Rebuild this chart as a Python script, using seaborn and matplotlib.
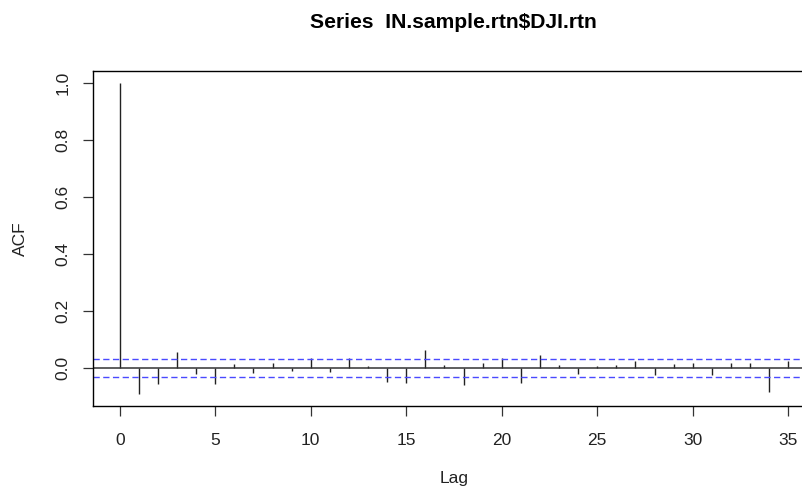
import numpy as np
import pandas as pd
import matplotlib
matplotlib.use("Agg")
import matplotlib.pyplot as plt
import seaborn as sns

# Sample autocorrelations of the daily DJI return series, lags 0..35
lags = list(range(36))
acf_values = [
    1.000, -0.090, -0.055, 0.055, -0.023, -0.056, 0.013, -0.018, 0.016, -0.009,
    0.036, -0.015, 0.034, 0.006, -0.049, -0.053, 0.063, 0.009, -0.060, 0.016,
    0.034, -0.053, 0.044, 0.011, -0.021, 0.006, 0.009, 0.023, -0.026, 0.013,
    0.016, -0.026, 0.016, 0.016, -0.084, 0.023,
]
conf_bound = 0.033  # approximate 95% white-noise band
x_ticks = [0, 5, 10, 15, 20, 25, 30, 35]
y_ticks = [0.0, 0.2, 0.4, 0.6, 0.8, 1.0]
title = "Series  IN.sample.rtn$DJI.rtn"

df = pd.DataFrame({"lag": lags, "acf": acf_values})

sns.set_style("white")
plt.rcParams["font.family"] = ["Liberation Sans", "DejaVu Sans"]

fig = plt.figure(figsize=(8.02, 4.88), dpi=100)
ax = fig.add_axes([93 / 802, 1 - 406 / 488, (815 - 93) / 802, (406 - 70.7) / 488])

# ACF spikes
ax.vlines(df["lag"], 0, df["acf"], color="#222222", linewidth=1.0)
ax.axhline(0, color="#333333", linewidth=1.1)
for b in (conf_bound, -conf_bound):
    ax.axhline(b, color="#4a4aff", linewidth=1.0, linestyle=(0, (4.5, 2.5)))

lo, hi = min(acf_values), max(acf_values)
pad = (hi - lo) * 0.04
ax.set_ylim(lo - pad, hi + pad)
xpad = (max(lags) - min(lags)) * 0.04
ax.set_xlim(min(lags) - xpad, max(lags) + xpad)

ax.set_xticks(x_ticks)
ax.set_xticklabels([str(t) for t in x_ticks])
ax.set_yticks(y_ticks)
ax.set_yticklabels([f"{t:.1f}" for t in y_ticks], rotation=90, va="center")

for s in ax.spines.values():
    s.set_visible(True)
    s.set_color("black")
    s.set_linewidth(1.0)

ax.tick_params(axis="both", which="major", direction="out", length=7.2, width=0.9,
               color="#333333", labelsize=12.5, labelcolor="#222222")
ax.tick_params(axis="x", pad=12, bottom=True)
ax.tick_params(axis="y", pad=9, left=True)

ax.set_xlabel("Lag", fontsize=12.5, color="#222222", labelpad=17)
ax.set_ylabel("ACF", fontsize=12.5, color="#222222", labelpad=20)
fig.text(453 / 802, 1 - 22 / 488, title, ha="center", va="center",
         fontsize=15.2, fontweight="bold", color="black")

fig.savefig("out.png", dpi=100)
